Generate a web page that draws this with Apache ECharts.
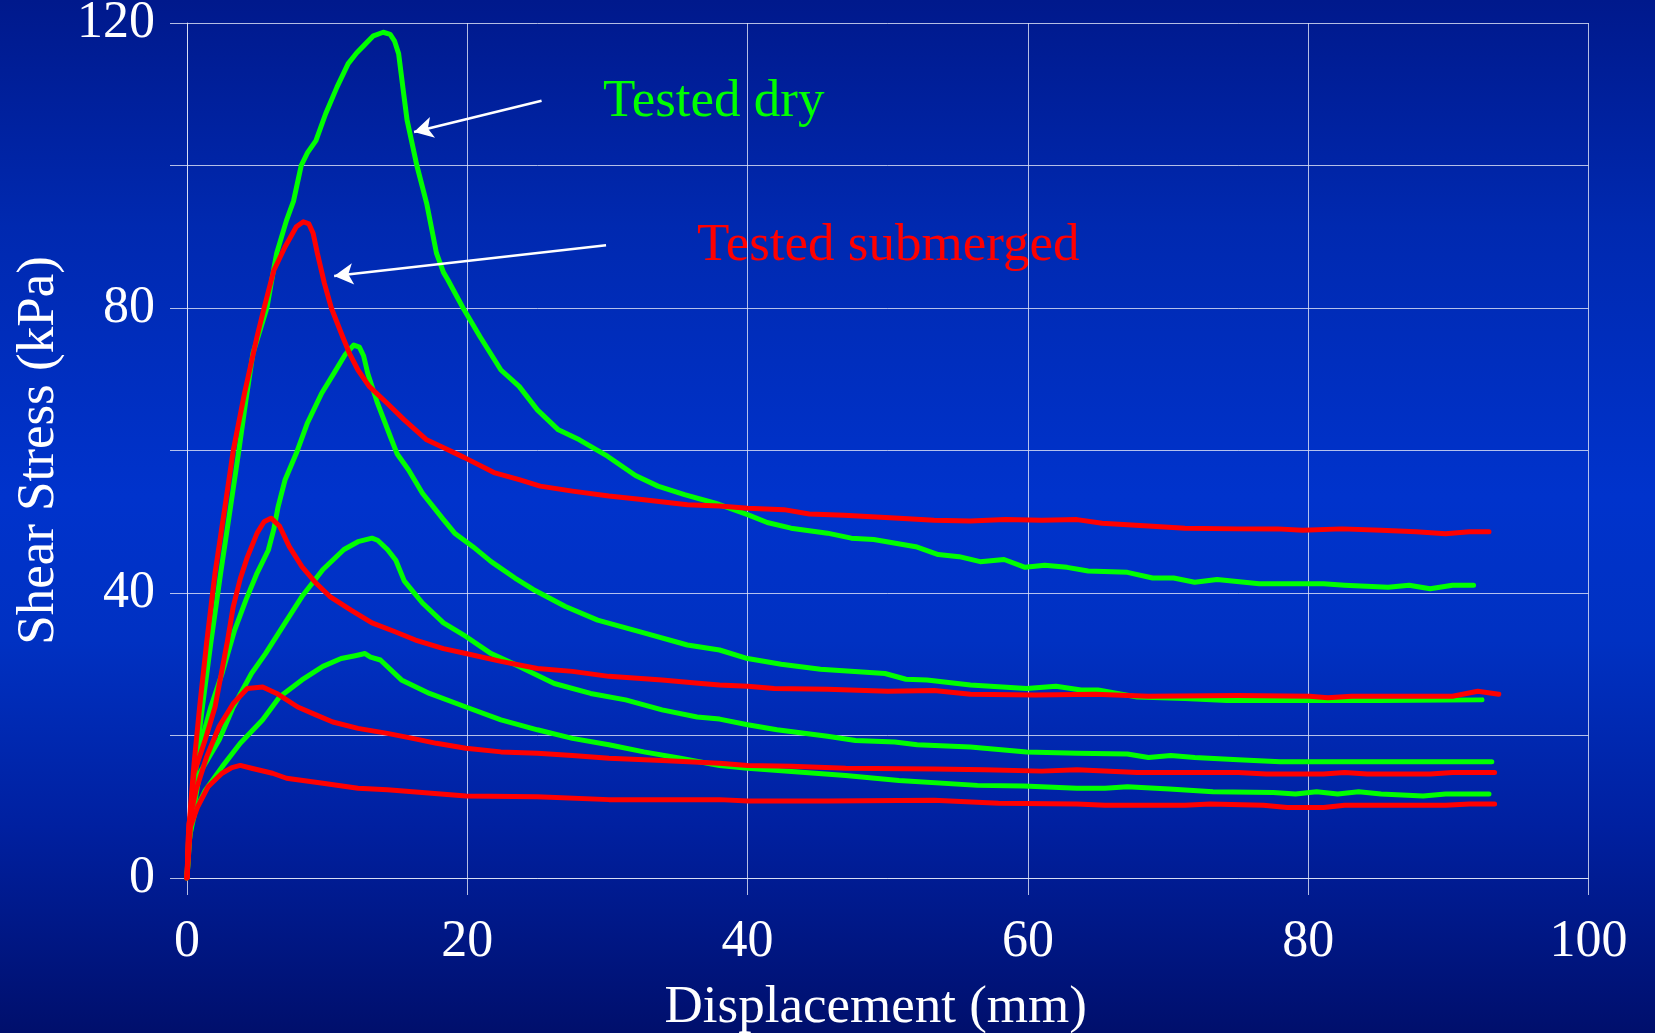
<!DOCTYPE html>
<html>
<head>
<meta charset="utf-8">
<script src="https://cdn.jsdelivr.net/npm/echarts@6/dist/echarts.min.js"></script>
<style>
html,body{margin:0;padding:0;}
body{background:linear-gradient(to bottom,#00198c 0%,#0029b0 22%,#0033cc 48%,#0031c2 62%,#0020a0 80%,#000f6c 100%);}
#chart{width:1655px;height:1033px;}
</style>
</head>
<body>
<div id="chart"></div>
<script>
// Shear stress (kPa) vs displacement (mm) — [x, y] pairs
const dry1 = [[0,0],[0.1,5],[0.3,10],[0.6,16],[1.1,24],[1.7,33],[2.4,42.8],[3.1,52],[3.7,60],[4.2,67],[4.7,73.6],[5.7,80],[6.1,84.5],[6.4,87.7],[7.1,92.3],[7.6,95],[8.15,100],[8.6,101.8],[9.2,103.5],[9.9,107.3],[10.7,111],[11.5,114.3],[12.1,115.8],[12.7,117],[13.3,118.2],[14.0,118.7],[14.5,118.4],[14.8,117.5],[15.1,115.7],[15.4,111],[15.7,106.4],[16.4,100],[17.1,94.7],[17.8,87.7],[18.3,85],[18.6,84],[19.7,80],[20.9,76],[22.4,71.3],[23.7,69],[25.0,65.7],[26.5,62.9],[28,61.5],[30,59.2],[32,56.5],[33.6,55],[35.5,53.8],[37.7,52.6],[40,51],[41.4,49.9],[43.1,49.1],[45.7,48.4],[47.4,47.7],[49,47.5],[52,46.5],[53.6,45.4],[55.1,45.1],[56.6,44.4],[58.3,44.7],[59.8,43.6],[61.2,43.9],[62.8,43.6],[64.3,43.1],[67.1,42.9],[68.9,42.1],[70.4,42.1],[71.9,41.5],[73.5,41.9],[76.5,41.3],[81.1,41.3],[82.6,41.1],[85.7,40.8],[87.2,41.1],[88.7,40.6],[90.3,41.1],[91.8,41.1]];
const dry2 = [[0,0],[0.15,6],[0.5,14],[1.0,19],[1.7,24],[2.5,28.7],[3.4,34.8],[4.2,39],[5.0,42.8],[5.8,46],[6.2,49],[6.5,52.1],[7.0,55.9],[7.8,59.6],[8.6,63.9],[9.6,68],[10.5,70.9],[11.3,73.5],[11.9,74.8],[12.3,74.5],[12.6,73.3],[12.9,70.8],[13.6,66.6],[14.5,62],[15.0,59.5],[15.8,57.3],[16.8,54],[18.3,50.3],[19.1,48.4],[20.4,46.5],[21.7,44.4],[23.4,42.1],[24.7,40.5],[27,38.1],[29.3,36.2],[32.6,34.4],[35.7,32.7],[38,32],[40,30.8],[42.4,30],[45.2,29.3],[49.8,28.7],[51.3,27.9],[52.8,27.8],[55.9,27.1],[59.9,26.6],[62,26.9],[63.8,26.4],[65,26.4],[67.8,25.4],[71.2,25.2],[74.2,24.9],[78,24.9],[85,24.9],[92.4,25]];
const dry3 = [[0,0],[0.15,5],[0.5,10],[0.9,14.7],[2.3,19.4],[3.3,24],[4.6,28.7],[5.6,31.5],[7.0,35.8],[8.2,39.5],[9.7,43.3],[11.2,46.1],[12.2,47.2],[13.2,47.7],[13.6,47.4],[14.3,46.1],[14.9,44.6],[15.5,41.7],[16.8,38.6],[18.3,35.8],[19.9,33.9],[21.7,31.5],[23.7,29.7],[26.2,27.3],[28.8,25.9],[31.3,25],[33.9,23.6],[36.4,22.6],[38,22.3],[40,21.5],[42.1,20.8],[45.7,19.9],[47.7,19.3],[50.5,19.1],[52.1,18.7],[55.9,18.4],[59.9,17.7],[63.5,17.5],[67.1,17.4],[68.6,16.9],[70.2,17.2],[71.9,16.9],[75,16.6],[78,16.3],[93.1,16.3]];
const dry4 = [[0,0],[0.2,6],[0.6,9.5],[1.3,12.3],[2.5,15.6],[3.8,18.9],[5.4,22.2],[6.6,25.4],[8.2,27.8],[9.7,29.7],[11.0,30.8],[12.0,31.2],[12.7,31.5],[13.1,31.0],[13.8,30.6],[15.3,27.8],[17.3,25.9],[19.9,24],[22.4,22.2],[25,20.8],[27.5,19.6],[30.1,18.7],[32.6,17.7],[35.2,16.8],[38,15.8],[40,15.4],[47,14.4],[50.8,13.7],[56.4,13],[59.7,12.9],[63.5,12.6],[65.5,12.6],[67.1,12.8],[70.1,12.5],[73.2,12.1],[77.5,12],[79.1,11.8],[80.6,12.1],[82.1,11.8],[83.6,12.1],[85.2,11.8],[88.2,11.5],[89.8,11.8],[92.9,11.8]];
const sub1 = [[0,0],[0.1,5],[0.25,10],[0.5,16],[0.9,24],[1.4,33],[2.0,42.8],[2.7,52],[3.3,60],[4.1,68],[5.0,76],[5.5,80],[6.2,85.3],[7.0,88.6],[7.8,91.4],[8.3,92.1],[8.7,91.8],[9.0,90.5],[9.3,87.7],[9.8,83.5],[10.3,80],[11.1,76],[11.6,73.6],[12.2,71.3],[13.0,69],[14.3,66.6],[15.5,64.3],[17.1,61.5],[18.2,60.5],[19.8,59],[21.9,56.9],[23.7,55.9],[25.2,55],[27.5,54.3],[30.1,53.6],[32.6,53.1],[35.7,52.4],[38,52.2],[40,51.9],[42.6,51.7],[44.4,51.1],[46.9,50.9],[50.8,50.5],[53.3,50.2],[55.9,50.1],[58.4,50.3],[61,50.2],[63.5,50.3],[65.3,49.8],[68.6,49.4],[71.2,49.1],[75,49],[77.8,49],[79.6,48.8],[82.4,49],[85.2,48.8],[87.7,48.6],[89.8,48.3],[91.5,48.6],[92.9,48.6]];
const sub2 = [[0,0],[0.1,6],[0.5,14.7],[1.3,19.4],[2.0,24],[2.45,28.7],[2.9,33.4],[3.3,38.1],[3.8,42],[4.3,45],[5.0,48.4],[5.5,50],[6.0,50.5],[6.6,49.4],[7.3,46.5],[8.2,43.7],[9.2,41.4],[10.2,39.5],[11.7,37.6],[13.2,35.8],[14.8,34.6],[16.3,33.4],[18.3,32.2],[19.9,31.5],[22.4,30.4],[25,29.4],[27.5,29],[30.1,28.3],[33.9,27.8],[36.7,27.3],[38,27.1],[40,26.9],[41.9,26.6],[45.7,26.5],[50,26.2],[53.3,26.3],[55.9,25.8],[60.5,25.7],[64.8,25.8],[68.6,25.5],[75,25.6],[80.1,25.5],[81.4,25.3],[83.1,25.5],[90.3,25.5],[92.1,26.2],[93.6,25.8]];
const sub3 = [[0,0],[0.13,7.6],[0.64,12.3],[1.4,17],[2.3,21.3],[3.3,24.5],[4.3,26.6],[5.4,26.8],[6.4,25.9],[7.9,24],[9.2,22.9],[10.4,21.9],[12.2,21],[14.3,20.3],[16.1,19.6],[17.8,18.9],[19.9,18.2],[22.4,17.7],[25,17.5],[27.5,17.2],[30.1,16.8],[33.9,16.5],[38,16.1],[40,15.8],[43.1,15.7],[47,15.4],[53.3,15.3],[56.9,15.2],[61,15],[63.5,15.2],[67.8,14.8],[75,14.8],[77,14.6],[81.1,14.6],[82.6,14.8],[84.2,14.6],[88.7,14.6],[90.3,14.8],[93.3,14.8]];
const sub4 = [[0,0],[0.25,7.2],[0.76,10],[1.5,12.8],[2.5,14.7],[3.2,15.5],[3.8,15.8],[4.6,15.4],[6.1,14.7],[7.1,14],[9.7,13.3],[12.2,12.6],[14.3,12.4],[16.1,12.1],[19.9,11.5],[25,11.4],[30.1,11],[38,11],[40,10.8],[45.7,10.8],[53.3,10.9],[57.9,10.5],[63.5,10.4],[65.5,10.2],[71.2,10.2],[73,10.4],[76.8,10.2],[78.5,9.9],[81.1,9.9],[82.6,10.2],[89.8,10.2],[91.5,10.4],[93.3,10.4]];

const xTicks = [0, 20, 40, 60, 80, 100];
const yTickLabels = [0, 40, 80, 120];
const xTitle = 'Displacement (mm)';
const yTitle = 'Shear Stress (kPa)';
const labelDry = 'Tested dry';
const labelSub = 'Tested submerged';
// arrow annotations in data coordinates: [start, tip]
const arrowDry = [[25.3, 109.1], [16.2, 104.7]];
const arrowSub = [[29.9, 88.8], [10.5, 84.5]];

const FONT = '"Liberation Serif", "Times New Roman", serif';
const GREEN = '#00ff00';
const RED = '#ff0000';
const GRIDC = 'rgba(225,230,248,0.8)';

function lineSeries(name, data, color) {
  return {
    name: name, type: 'line', data: data, showSymbol: false, symbol: 'none',
    smooth: false, silent: true,
    lineStyle: { color: color, width: 5, cap: 'round', join: 'round' }
  };
}

const series = [
  lineSeries('dry1', dry1, GREEN),
  lineSeries('dry2', dry2, GREEN),
  lineSeries('dry3', dry3, GREEN),
  lineSeries('dry4', dry4, GREEN),
  lineSeries('sub1', sub1, RED),
  lineSeries('sub2', sub2, RED),
  lineSeries('sub3', sub3, RED),
  lineSeries('sub4', sub4, RED)
];
series.push({
  type: 'line', data: [], silent: true,
  markLine: {
    silent: true, animation: false,
    symbol: ['none', 'arrow'], symbolSize: [16, 19],
    label: { show: false },
    lineStyle: { color: '#ffffff', width: 2.5, type: 'solid' },
    data: [
      [{ coord: arrowDry[0] }, { coord: arrowDry[1] }],
      [{ coord: arrowSub[0] }, { coord: arrowSub[1] }]
    ]
  }
});

const chart = echarts.init(document.getElementById('chart'), null, { renderer: 'canvas' });
chart.setOption({
  backgroundColor: 'transparent',
  animation: false,
  grid: { left: 187, right: 66.5, top: 23, bottom: 155, containLabel: false, outerBoundsMode: 'none' },
  xAxis: {
    type: 'value', min: xTicks[0], max: xTicks[xTicks.length - 1], interval: 20,
    name: xTitle, nameLocation: 'middle', nameGap: 104,
    nameTextStyle: { color: '#ffffff', fontFamily: FONT, fontSize: 53, padding: [0, 24, 0, 0] },
    axisLine: { show: true, onZero: false, lineStyle: { color: GRIDC, width: 1 } },
    axisTick: { show: true, inside: false, length: 17, lineStyle: { color: GRIDC, width: 1 } },
    axisLabel: { color: '#ffffff', fontFamily: FONT, fontSize: 52, margin: 38 },
    splitLine: { show: true, lineStyle: { color: GRIDC, width: 1 } }
  },
  yAxis: {
    type: 'value', min: 0, max: 120, interval: 20,
    name: yTitle, nameLocation: 'middle', nameGap: 121, nameRotate: 90,
    nameTextStyle: { color: '#ffffff', fontFamily: FONT, fontSize: 53 },
    axisLine: { show: true, onZero: false, lineStyle: { color: GRIDC, width: 1 } },
    axisTick: { show: true, inside: false, length: 17, lineStyle: { color: GRIDC, width: 1 } },
    axisLabel: {
      color: '#ffffff', fontFamily: FONT, fontSize: 52, margin: 32,
      padding: [0, 0, 10, 0],
      formatter: function (v) { return yTickLabels.indexOf(v) >= 0 ? String(v) : ''; }
    },
    splitLine: { show: true, lineStyle: { color: GRIDC, width: 1 } }
  },
  graphic: [
    { type: 'text', left: 603, top: 76, silent: true,
      style: { text: labelDry, fill: GREEN, font: '53px ' + FONT } },
    { type: 'text', left: 697, top: 220, silent: true,
      style: { text: labelSub, fill: RED, font: '53px ' + FONT } }
  ],
  series: series
});
</script>
</body>
</html>
